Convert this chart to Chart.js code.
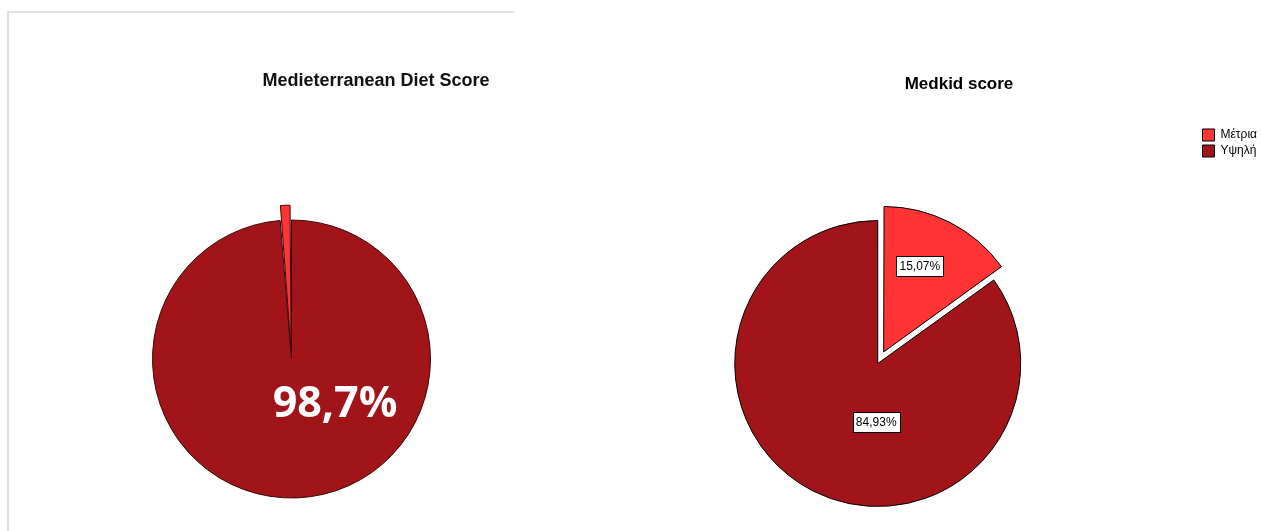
<!DOCTYPE html>
<html lang="el">
<head>
<meta charset="UTF-8">
<script src="https://cdn.jsdelivr.net/npm/chart.js"></script>
<title>Diet scores</title>
<style>
    html, body { margin: 0; padding: 0; background: #fff; overflow: hidden; }
    body { width: 1261px; height: 531px; position: relative; font-family: "Liberation Sans", Arial, sans-serif; }
    .panel { position: absolute; left: 7px; top: 11px; width: 505px; height: 540px;
             border-top: 2px solid #e3e3e3; border-left: 2px solid #e0e0e0; }
    .title { position: absolute; font-weight: bold; color: #111; white-space: nowrap; transform: translate(-50%, -50%); }
    canvas { position: absolute; top: 0; }
</style>
</head>
<body>
    <div class="panel"></div>
    <canvas id="dietChart" width="583" height="718" style="left:0"></canvas>
    <canvas id="medkidChart" width="755" height="800" style="left:512px"></canvas>
    <div class="title" style="left:376px; top:80px; font-size:18px;">Medieterranean Diet Score</div>
    <div class="title" style="left:959px; top:84px; font-size:17px; color:#000;">Medkid score</div>
<script>
    // data
    const dietLabels = ['Υψηλή', 'Μέτρια'];
    const dietValues = [98.7, 1.3];

    const medkidLabels = ['Μέτρια', 'Υψηλή'];
    const medkidValues = [15.07, 84.93];

    const colMid = '#FF3434';
    const colHigh = '#A11419';

    // percent labels inside the slices
    const sliceLabels = {
        id: 'sliceLabels',
        afterDatasetsDraw(chart, args, opts) {
            const ctx = chart.ctx;
            const meta = chart.getDatasetMeta(0);
            const values = chart.data.datasets[0].data;
            meta.data.forEach((arc, i) => {
                const place = opts.place[i];
                if (!place) return;
                const p = arc.getProps(['x', 'y', 'startAngle', 'endAngle', 'outerRadius']);
                const shift = (arc.options.offset || 0) / 4;
                const mid = (p.startAngle + p.endAngle) / 2;
                const ang = (place.angle - 90) * Math.PI / 180;
                const x = p.x + Math.cos(mid) * shift + Math.cos(ang) * p.outerRadius * place.r;
                const y = p.y + Math.sin(mid) * shift + Math.sin(ang) * p.outerRadius * place.r;
                const txt = values[i].toFixed(opts.digits).replace('.', ',') + '%';
                ctx.save();
                ctx.font = opts.font;
                ctx.textAlign = 'center';
                ctx.textBaseline = 'middle';
                if (opts.boxed) {
                    const w = ctx.measureText(txt).width + 6;
                    const h = 20;
                    ctx.fillStyle = '#fff';
                    ctx.fillRect(Math.round(x - w / 2) + 0.5, Math.round(y - h / 2) + 0.5, Math.round(w), h);
                    ctx.strokeStyle = '#000';
                    ctx.lineWidth = 1;
                    ctx.strokeRect(Math.round(x - w / 2) + 0.5, Math.round(y - h / 2) + 0.5, Math.round(w), h);
                }
                ctx.fillStyle = opts.color;
                ctx.fillText(txt, x, y + 1);
                ctx.restore();
            });
        }
    };

    new Chart(document.getElementById('dietChart'), {
        type: 'pie',
        data: {
            labels: dietLabels,
            datasets: [{
                data: dietValues,
                backgroundColor: [colHigh, colMid],
                borderColor: '#3a0707',
                borderWidth: 1,
                offset: [0, 31],
                radius: 139
            }]
        },
        options: {
            responsive: false,
            animation: false,
            layout: { padding: 0 },
            plugins: {
                legend: { display: false },
                tooltip: { enabled: false },
                sliceLabels: {
                    place: [{ angle: 135.6, r: 0.448 }, null],
                    digits: 1,
                    font: 'bold 43px "Open Sans"',
                    color: '#fff',
                    boxed: false
                }
            }
        },
        plugins: [sliceLabels]
    });

    new Chart(document.getElementById('medkidChart'), {
        type: 'pie',
        data: {
            labels: medkidLabels,
            datasets: [{
                data: medkidValues,
                backgroundColor: [colMid, colHigh],
                borderColor: '#000',
                borderWidth: 1,
                offset: [52, 0],
                radius: 143
            }]
        },
        options: {
            responsive: false,
            animation: false,
            layout: { padding: { left: 45, right: 0, top: 125, bottom: 198 } },
            plugins: {
                legend: {
                    position: 'right',
                    align: 'start',
                    labels: {
                        boxWidth: 12,
                        boxHeight: 12,
                        padding: 4,
                        color: '#000',
                        font: { family: '"Liberation Sans", Arial', size: 12 }
                    }
                },
                tooltip: { enabled: false },
                sliceLabels: {
                    place: [{ angle: 22.7, r: 0.655 }, { angle: 181.5, r: 0.41 }],
                    digits: 2,
                    font: '12px "Liberation Sans", Arial',
                    color: '#000',
                    boxed: true
                }
            }
        },
        plugins: [sliceLabels]
    });
</script>
</body>
</html>
